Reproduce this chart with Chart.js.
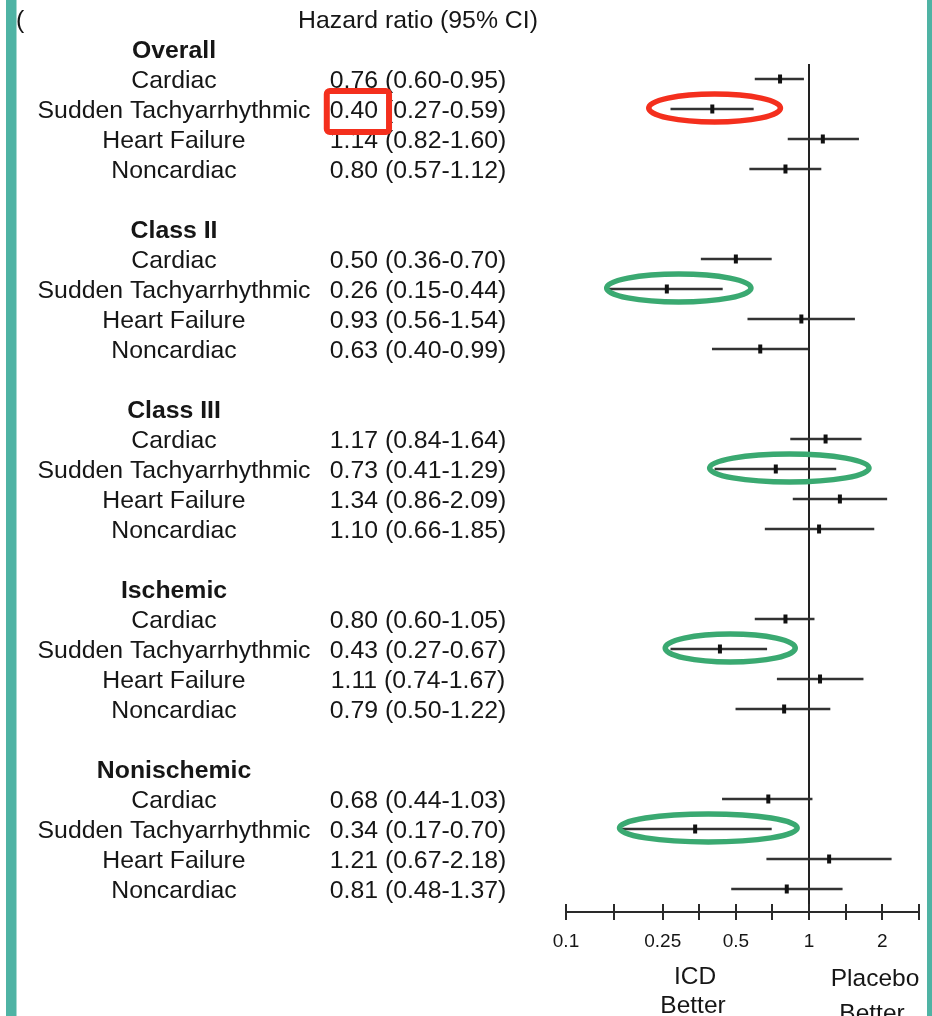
<!DOCTYPE html>
<html>
<head>
<meta charset="utf-8">
<script src="https://cdn.jsdelivr.net/npm/chart.js@4.4.1/dist/chart.umd.min.js"></script>
<style>
  html, body { margin: 0; padding: 0; background: #fff; overflow: hidden; }
  canvas { display: block; }
</style>
</head>
<body>
<canvas id="forest" width="932" height="1016"></canvas>
<script>
// Subgroups and outcomes of the forest plot
const groups = ['Overall', 'Class II', 'Class III', 'Ischemic', 'Nonischemic'];
const outcomes = ['Cardiac', 'Sudden Tachyarrhythmic', 'Heart Failure', 'Noncardiac'];

// Hazard ratios and 95% confidence limits, one row per subgroup
const hazardRatio = [
  [0.76, 0.40, 1.14, 0.80],
  [0.50, 0.26, 0.93, 0.63],
  [1.17, 0.73, 1.34, 1.10],
  [0.80, 0.43, 1.11, 0.79],
  [0.68, 0.34, 1.21, 0.81]
];
const ciLower = [
  [0.60, 0.27, 0.82, 0.57],
  [0.36, 0.15, 0.56, 0.40],
  [0.84, 0.41, 0.86, 0.66],
  [0.60, 0.27, 0.74, 0.50],
  [0.44, 0.17, 0.67, 0.48]
];
const ciUpper = [
  [0.95, 0.59, 1.60, 1.12],
  [0.70, 0.44, 1.54, 0.99],
  [1.64, 1.29, 2.09, 1.85],
  [1.05, 0.67, 1.67, 1.22],
  [1.03, 0.70, 2.18, 1.37]
];

// Axis ticks: labelled ticks and unlabelled ticks between them
const tickLabels = [0.1, 0.25, 0.5, 1, 2];
const minorTicks = [0.158, 0.354, 0.707, 1.414, 2.83];

const FONT = '"Liberation Sans", Arial, Helvetica, sans-serif';
const TEXT = '#161616';
const RED = '#f42f1d';
const GREEN = '#3aa971';
const TEXT_DY = 2;   // nudges 'middle'-aligned text onto the row centre

const axisTicks = tickLabels.concat(minorTicks).sort((a, b) => a - b);
const rowOf = (g, o) => g * 6 + 1 + o;
const fmt = v => v.toFixed(2);
const hrText = (g, o) => `${fmt(hazardRatio[g][o])} (${fmt(ciLower[g][o])}-${fmt(ciUpper[g][o])})`;

const ciData = [];
const hrData = [];
groups.forEach((_, g) => outcomes.forEach((_, o) => {
  ciData.push({ x: [ciLower[g][o], ciUpper[g][o]], y: rowOf(g, o) });
  hrData.push({ x: hazardRatio[g][o], y: rowOf(g, o) });
}));

// Rings drawn around the sudden tachyarrhythmic intervals (extent in hazard-ratio units)
const rings = [
  { group: 0, from: 0.219, to: 0.763, color: RED },
  { group: 1, from: 0.147, to: 0.577, color: GREEN },
  { group: 2, from: 0.390, to: 1.766, color: GREEN },
  { group: 3, from: 0.256, to: 0.878, color: GREEN },
  { group: 4, from: 0.166, to: 0.894, color: GREEN }
];

const LABEL_X = 174;
const HR_X = 418;

const tablePlugin = {
  id: 'forestTable',
  beforeDraw(chart) {
    const { ctx, width, height } = chart;
    ctx.save();
    ctx.fillStyle = '#fff';
    ctx.fillRect(0, 0, width, height);
    ctx.fillStyle = '#4fb3a4';
    ctx.fillRect(6, 0, 10.5, height);
    ctx.fillRect(927, 0, 5, height);
    ctx.restore();
  },
  beforeDatasetsDraw(chart) {
    const { ctx, chartArea, scales: { x, y } } = chart;
    const px = Math.round(x.getPixelForValue(1) - 1) + 1;
    ctx.save();
    ctx.strokeStyle = '#222';
    ctx.lineWidth = 2;
    ctx.beginPath();
    ctx.moveTo(px, y.getPixelForValue(0.5));
    ctx.lineTo(px, chartArea.bottom);
    ctx.stroke();
    ctx.restore();
  },
  afterDraw(chart) {
    const { ctx, chartArea, scales: { x, y } } = chart;
    const rowY = r => y.getPixelForValue(r) + TEXT_DY;
    ctx.save();

    // tick marks cross the axis line
    ctx.strokeStyle = '#2a2a2a';
    ctx.lineWidth = 2;
    axisTicks.forEach(v => {
      const px = Math.round(x.getPixelForValue(v) - 1) + 1;
      ctx.beginPath();
      ctx.moveTo(px, chartArea.bottom - 8);
      ctx.lineTo(px, chartArea.bottom);
      ctx.stroke();
    });

    // table text
    ctx.fillStyle = TEXT;
    ctx.textBaseline = 'middle';
    ctx.font = `24.8px ${FONT}`;
    ctx.textAlign = 'left';
    ctx.fillText('(', 16, rowY(-1));
    ctx.textAlign = 'center';
    ctx.fillText('Hazard ratio (95% CI)', HR_X, rowY(-1));
    groups.forEach((name, g) => {
      ctx.font = `bold 24.8px ${FONT}`;
      ctx.fillText(name, LABEL_X, rowY(g * 6));
      ctx.font = `24.8px ${FONT}`;
      outcomes.forEach((label, o) => {
        const py = rowY(rowOf(g, o));
        ctx.fillText(label, LABEL_X, py);
        ctx.fillText(hrText(g, o), HR_X, py);
      });
    });

    // direction labels under the axis
    ctx.font = `24.5px ${FONT}`;
    ctx.fillText('ICD', 695, 975 + TEXT_DY);
    ctx.fillText('Better', 693, 1004 + TEXT_DY);
    ctx.fillText('Placebo', 875, 977 + TEXT_DY);
    ctx.fillText('Better', 872, 1012 + TEXT_DY);

    // highlight rings
    ctx.lineWidth = 5.5;
    rings.forEach(r => {
      const x0 = x.getPixelForValue(r.from);
      const x1 = x.getPixelForValue(r.to);
      const cy = y.getPixelForValue(rowOf(r.group, 1)) - 1;
      ctx.strokeStyle = r.color;
      ctx.beginPath();
      ctx.ellipse((x0 + x1) / 2, cy, (x1 - x0) / 2, 14, 0, 0, Math.PI * 2);
      ctx.stroke();
    });

    // box around the overall sudden tachyarrhythmic hazard ratio
    ctx.font = `24.8px ${FONT}`;
    const full = hrText(0, 1);
    const left = HR_X - ctx.measureText(full).width / 2;
    const w = ctx.measureText(fmt(hazardRatio[0][1])).width;
    const py = y.getPixelForValue(rowOf(0, 1));
    ctx.strokeStyle = RED;
    ctx.lineWidth = 6;
    ctx.beginPath();
    ctx.roundRect(left - 3, py - 18, w + 14, 41, 3);
    ctx.stroke();

    ctx.restore();
  }
};

function drawChart() {
  new Chart(document.getElementById('forest'), {
    type: 'scatter',
    data: {
      datasets: [
        {
          type: 'bar',
          indexAxis: 'y',
          data: ciData,
          backgroundColor: '#333',
          borderWidth: 0,
          barThickness: 2,
          order: 2
        },
        {
          type: 'scatter',
          data: hrData,
          pointStyle: 'line',
          pointRotation: 90,
          pointRadius: 4.5,
          pointBorderWidth: 4,
          pointBorderColor: '#111',
          pointBackgroundColor: '#111',
          order: 1
        }
      ]
    },
    options: {
      responsive: false,
      animation: false,
      events: [],
      layout: { autoPadding: false, padding: { left: 566, right: 13.2, top: 4, bottom: 0 } },
      plugins: { legend: { display: false }, tooltip: { enabled: false } },
      scales: {
        x: {
          type: 'logarithmic',
          position: 'bottom',
          min: 0.1,
          max: 2.83,
          offset: false,
          afterBuildTicks: s => { s.ticks = axisTicks.map(v => ({ value: v })); },
          afterFit: s => { s.height = 104; },
          border: { display: true, color: '#2a2a2a', width: 2 },
          grid: { drawOnChartArea: false, drawTicks: true, tickLength: 8, color: '#2a2a2a', lineWidth: 2, offset: false },
          ticks: {
            autoSkip: false,
            maxRotation: 0,
            padding: 10,
            color: TEXT,
            font: { family: FONT, size: 19 },
            callback: v => tickLabels.includes(v) ? String(v) : ''
          }
        },
        y: {
          type: 'linear',
          min: -1.5,
          max: 28.767,
          reverse: true,
          offset: false,
          grace: 0,
          grid: { offset: false },
          display: false
        }
      }
    },
    plugins: [tablePlugin]
  });
}

Promise.all([
  document.fonts.load(`24.8px "Liberation Sans"`),
  document.fonts.load(`bold 24.8px "Liberation Sans"`)
]).then(drawChart, drawChart);
</script>
</body>
</html>
